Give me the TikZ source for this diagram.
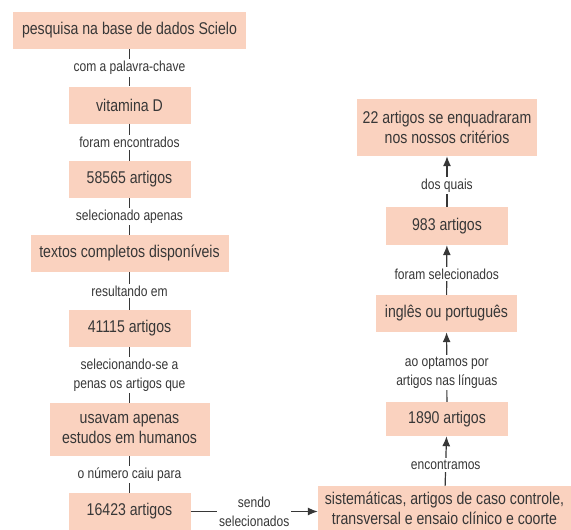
\documentclass[tikz,border=0pt]{standalone}
\usepackage{fontspec}
\setmainfont{Liberation Sans}[FakeStretch=0.83]
\usetikzlibrary{arrows.meta}
\definecolor{boxfill}{RGB}{250,210,191}
\definecolor{ink}{RGB}{55,55,55}
\begin{document}
\begin{tikzpicture}[x=1pt,y=-1pt]
\tikzstyle{box}=[fill=boxfill,text=ink,font=\fontsize{17}{20}\selectfont,align=center,minimum height=37pt,inner sep=0pt]
\tikzstyle{lbl}=[fill=white,text=ink,font=\fontsize{14.5}{19}\selectfont,align=center,inner sep=2pt]
\tikzstyle{link}=[draw=ink,line width=1.2pt]
\tikzstyle{up}=[link,-{Latex[length=10pt,width=8pt]}]
\useasboundingbox (0,0) rectangle (571,530);
% left column
\node[box,minimum width=233pt] (scielo) at (129.5,30.5) {pesquisa na base de dados Scielo};
\node[box,minimum width=122pt] (vitd) at (129.5,105) {vitamina D};
\node[box,minimum width=122pt] (n58565) at (129.5,179.5) {58565 artigos};
\node[box,minimum width=198pt] (textos) at (129.5,253.5) {textos completos disponíveis};
\node[box,minimum width=122pt] (n41115) at (129.5,328.5) {41115 artigos};
\node[box,minimum width=160pt,minimum height=53pt] (humanos) at (129.5,429.5) {usavam apenas\\estudos em humanos};
\node[box,minimum width=122pt] (n16423) at (129.5,511.5) {16423 artigos};
% right column
\node[box,minimum width=253pt,minimum height=44pt] (sist) at (444.5,508) {sistemáticas, artigos de caso controle,\\transversal e ensaio clínico e coorte};
\node[box,minimum width=122pt,minimum height=34pt] (n1890) at (447,419) {1890 artigos};
\node[box,minimum width=141pt] (linguas) at (446.5,313.5) {inglês ou português};
\node[box,minimum width=122pt,minimum height=38pt] (n983) at (447,226) {983 artigos};
\node[box,minimum width=180pt,minimum height=57pt] (n22) at (447,127.5) {22 artigos se enquadraram\\nos nossos critérios};
% connectors
\draw[link] (scielo) -- (vitd) node[lbl,midway] {com a palavra-chave};
\draw[link] (vitd) -- (n58565) node[lbl,midway] {foram encontrados};
\draw[link] (n58565) -- (textos) node[lbl,midway] {selecionado apenas};
\draw[link] (textos) -- (n41115) node[lbl,midway] {resultando em};
\draw[link] (n41115) -- (humanos) node[lbl,midway] {selecionando-se a\\penas os artigos que};
\draw[link] (humanos) -- (n16423) node[lbl,midway] {o número caiu para};
\draw[up] (n16423.east) -- (n16423.east -| sist.west) node[lbl,midway] {sendo\\selecionados};
\draw[up] (sist) -- (n1890) node[lbl,pos=0.42] {encontramos};
\draw[up] (n1890) -- (linguas) node[lbl,pos=0.42] {ao optamos por\\artigos nas línguas};
\draw[up] (linguas) -- (n983) node[lbl,pos=0.42] {foram selecionados};
\draw[up] (n983) -- (n22) node[lbl,pos=0.42] {dos quais};
\end{tikzpicture}
\end{document}
